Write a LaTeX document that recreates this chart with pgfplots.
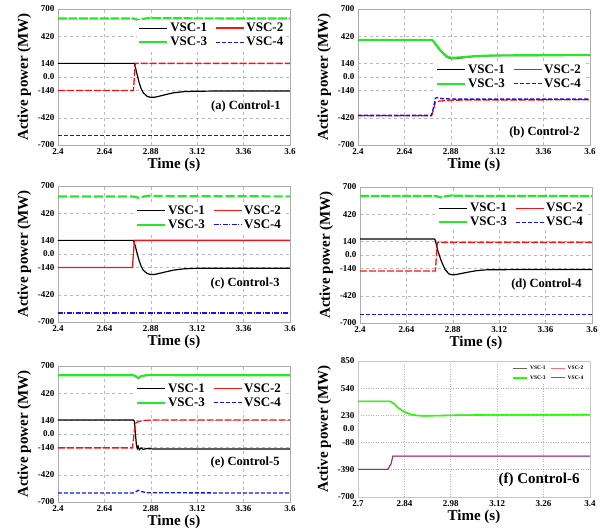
\documentclass[border=0pt]{standalone}
\usepackage{fontspec}
\setmainfont{Liberation Serif}
\usepackage{pgfplots}
\pgfplotsset{compat=1.18}
\definecolor{vgreen}{RGB}{40,230,40}
\definecolor{vred}{RGB}{245,20,20}
\definecolor{vblue}{RGB}{20,20,240}
\tikzset{plabel/.style={anchor=east, font=\bfseries\fontsize{12.5}{12.5}\selectfont}}
\pgfplotsset{
 dashleg/.style={legend image code/.code={\draw[##1] (0pt,0pt) -- (28pt,0pt);}},
 panel/.style={
   scale only axis, width=232pt, height=136pt,
   xmin=2.4, xmax=3.6, ymin=-700, ymax=700,
   xtick={2.4,2.64,2.88,3.12,3.36,3.6},
   xticklabels={2.4,2.64,2.88,3.12,3.36,3.6},
   ytick={-700,-420,-140,0,140,420,700},
   yticklabels={-700,-420,-140,0.0,140,420,700},
   grid=major, grid style={dashed, gray!55, line width=0.5pt},
   axis line style={gray!65, line width=0.7pt},
   major tick length=0pt,
   tick label style={font=\bfseries\fontsize{9}{9}\selectfont},
   label style={font=\bfseries\fontsize{15}{15}\selectfont},
   xlabel={Time (s)}, ylabel={Active power (MW)},
   xlabel style={yshift=3pt},
   legend columns=2,
   legend cell align=left,
   legend style={draw=none, fill=white, font=\bfseries\fontsize{13}{13}\selectfont, inner sep=1pt,
     /tikz/every even column/.append style={column sep=6pt}},
   legend image code/.code={\draw[##1,solid] (0pt,0pt) -- (28pt,0pt);},
 },
}
\begin{document}
\begin{tikzpicture}
\useasboundingbox (0,0) rectangle (606pt,532pt);
% ---------------- (a)
\begin{axis}[panel, at={(58pt,387pt)}, anchor=south west,
  legend style={at={(0.985,0.92)}, anchor=north east}]
\addplot[black, line width=1.2pt] coordinates {(2.4,140) (2.795,140) (2.80,100) (2.81,20) (2.82,-60) (2.83,-120) (2.84,-160) (2.86,-198) (2.88,-210) (2.90,-208) (2.93,-195) (2.97,-175) (3.0,-162) (3.05,-151) (3.1,-147) (3.2,-145) (3.6,-145)};
\addlegendentry{VSC-1}
\addplot[vred, line width=1.3pt, dash pattern=on 7pt off 2pt] coordinates {(2.4,-140) (2.79,-140) (2.80,140) (3.6,140)};
\addlegendentry{VSC-2}
\addplot[vgreen, line width=2.2pt, dash pattern=on 9pt off 1.5pt] coordinates {(2.4,602) (2.79,602) (2.81,590) (2.82,586) (2.84,598) (2.87,608) (2.9,606) (3.0,604) (3.3,603) (3.6,602)};
\addlegendentry{VSC-3}
\addplot[vblue, line width=1.3pt, dash pattern=on 4pt off 2pt, dashleg] coordinates {(2.4,-600) (3.6,-600)};
\addlegendentry{VSC-4}
\node[plabel] at (rel axis cs:0.975,0.28) {(a) Control-1};
\end{axis}
% ---------------- (b)
\begin{axis}[panel, at={(358pt,387pt)}, anchor=south west,
  legend style={at={(0.975,0.615)}, anchor=north east}]
\addplot[black, line width=1.2pt] coordinates {(2.4,380) (2.78,380) (2.79,368) (2.80,338) (2.82,285) (2.84,240) (2.86,205) (2.88,190) (2.90,190) (2.95,200) (3.0,212) (3.1,220) (3.6,225)};
\addlegendentry{VSC-1}
\addplot[vred, line width=1.3pt, dash pattern=on 7pt off 2pt] coordinates {(2.4,-398) (2.78,-398) (2.79,-340) (2.80,-262) (2.82,-248) (2.9,-238) (3.6,-234)};
\addlegendentry{VSC-2}
\addplot[vgreen, line width=2.2pt] coordinates {(2.4,382) (2.78,382) (2.79,370) (2.80,342) (2.82,290) (2.84,246) (2.86,212) (2.88,198) (2.90,198) (2.95,205) (3.0,214) (3.1,222) (3.6,226)};
\addlegendentry{VSC-3}
\addplot[vblue, line width=1.3pt, dash pattern=on 4pt off 2pt, dashleg] coordinates {(2.4,-395) (2.78,-395) (2.79,-320) (2.80,-218) (2.81,-212) (2.83,-222) (2.9,-228) (3.6,-228)};
\addlegendentry{VSC-4}
\node[plabel] at (rel axis cs:0.97,0.095) {(b) Control-2};
\end{axis}
% ---------------- (c)
\begin{axis}[panel, at={(58pt,210pt)}, anchor=south west,
  legend style={at={(0.975,0.88)}, anchor=north east}]
\addplot[black, line width=1.2pt] coordinates {(2.4,140) (2.79,140) (2.80,80) (2.81,0) (2.82,-70) (2.83,-125) (2.84,-165) (2.86,-200) (2.88,-212) (2.90,-210) (2.93,-197) (2.97,-178) (3.0,-165) (3.05,-153) (3.1,-148) (3.2,-146) (3.6,-146)};
\addlegendentry{VSC-1}
\addplot[vred, line width=1.3pt] coordinates {(2.4,-140) (2.785,-140) (2.795,140) (3.6,140)};
\addlegendentry{VSC-2}
\addplot[vgreen, line width=2.2pt, dash pattern=on 9pt off 3pt] coordinates {(2.4,592) (2.79,592) (2.81,582) (2.82,578) (2.84,590) (2.87,600) (2.9,598) (3.0,595) (3.6,593)};
\addlegendentry{VSC-3}
\addplot[vblue, line width=1.3pt, dash pattern=on 5pt off 1.5pt on 1pt off 1.5pt, dashleg] coordinates {(2.4,-607) (3.6,-607)};
\addlegendentry{VSC-4}
\node[plabel] at (rel axis cs:0.97,0.28) {(c) Control-3};
\end{axis}
% ---------------- (d)
\begin{axis}[panel, at={(360pt,209pt)}, anchor=south west,
  legend style={at={(0.975,0.905)}, anchor=north east}]
\addplot[black, line width=1.2pt] coordinates {(2.4,165) (2.785,165) (2.79,150) (2.80,60) (2.82,-60) (2.84,-150) (2.86,-195) (2.88,-205) (2.90,-200) (2.95,-180) (3.0,-162) (3.05,-153) (3.2,-150) (3.6,-150)};
\addlegendentry{VSC-1}
\addplot[vred, line width=1.3pt, dash pattern=on 7pt off 2pt] coordinates {(2.4,-165) (2.79,-165) (2.80,130) (3.6,130)};
\addlegendentry{VSC-2}
\addplot[vgreen, line width=2.2pt, dash pattern=on 9pt off 1.5pt] coordinates {(2.4,608) (2.79,608) (2.81,597) (2.82,594) (2.84,604) (2.87,612) (2.9,610) (3.0,608) (3.6,607)};
\addlegendentry{VSC-3}
\addplot[vblue, line width=1.3pt, dash pattern=on 4pt off 2pt, dashleg] coordinates {(2.4,-612) (3.6,-612)};
\addlegendentry{VSC-4}
\node[plabel] at (rel axis cs:0.97,0.28) {(d) Control-4};
\end{axis}
% ---------------- (e)
\begin{axis}[panel, at={(58pt,30pt)}, anchor=south west,
  legend style={at={(0.975,0.895)}, anchor=north east}]
\addplot[black, line width=1.2pt] coordinates {(2.4,145) (2.79,145) (2.795,130) (2.805,-100) (2.81,-150) (2.815,-128) (2.82,-162) (2.83,-143) (2.84,-158) (2.86,-150) (2.9,-155) (3.6,-155)};
\addlegendentry{VSC-1}
\addplot[vred, line width=1.3pt, dash pattern=on 7pt off 2pt] coordinates {(2.4,-143) (2.785,-143) (2.80,110) (2.82,130) (2.85,140) (2.9,145) (3.6,145)};
\addlegendentry{VSC-2}
\addplot[vgreen, line width=2.2pt] coordinates {(2.4,605) (2.79,605) (2.80,597) (2.815,575) (2.83,595) (2.86,606) (3.6,605)};
\addlegendentry{VSC-3}
\addplot[vblue, line width=1.3pt, dash pattern=on 4pt off 2pt, dashleg] coordinates {(2.4,-608) (2.79,-608) (2.80,-598) (2.815,-580) (2.83,-592) (2.86,-605) (3.6,-608)};
\addlegendentry{VSC-4}
\node[plabel] at (rel axis cs:0.97,0.29) {(e) Control-5};
\end{axis}
% ---------------- (f)
\begin{axis}[panel, at={(358pt,35pt)}, anchor=south west,
  xmin=2.7, xmax=3.4, ymin=-700, ymax=850,
  xtick={2.7,2.84,2.98,3.12,3.26,3.4},
  xticklabels={2.7,2.84,2.98,3.12,3.26,3.4},
  ytick={-700,-390,-80,230,540,850},
  yticklabels={-700,-390,-80,230,540,850},
  extra y ticks={75}, extra y tick labels={0.0},
  extra tick style={grid=none},
  grid style={dotted, gray!60, line width=0.6pt},
  axis line style={gray!45, line width=0.7pt},
  legend style={at={(0.985,0.985)}, anchor=north east, font=\bfseries\fontsize{5.5}{6}\selectfont,
    /tikz/every even column/.append style={column sep=3pt}},
  legend image code/.code={\draw[#1,solid] (0pt,0pt) -- (14pt,0pt);}]
\addplot[gray!80!black, line width=1pt] coordinates {(2.7,390) (2.795,390) (2.80,385) (2.81,360) (2.82,320) (2.84,270) (2.86,240) (2.88,228) (2.9,225) (2.95,228) (3.0,232) (3.1,236) (3.4,238)};
\addlegendentry{VSC-1}
\addplot[vred!60, line width=1pt] coordinates {(2.7,-385) (2.79,-385) (2.80,-320) (2.805,-235) (3.4,-235)};
\addlegendentry{VSC-2}
\addplot[green!80!lime, line width=1.6pt] coordinates {(2.7,390) (2.795,390) (2.80,385) (2.81,360) (2.82,320) (2.84,270) (2.86,240) (2.88,228) (2.9,225) (2.95,228) (3.0,232) (3.1,236) (3.4,238)};
\addlegendentry{VSC-3}
\addplot[blue!60!red!90, line width=1pt, opacity=0.8] coordinates {(2.7,-385) (2.79,-385) (2.80,-320) (2.805,-235) (3.4,-235)};
\addlegendentry{VSC-4}
\node[anchor=east, font=\bfseries\fontsize{15}{15}\selectfont] at (rel axis cs:0.97,0.126) {(f) Control-6};
\end{axis}
\end{tikzpicture}
\end{document}
